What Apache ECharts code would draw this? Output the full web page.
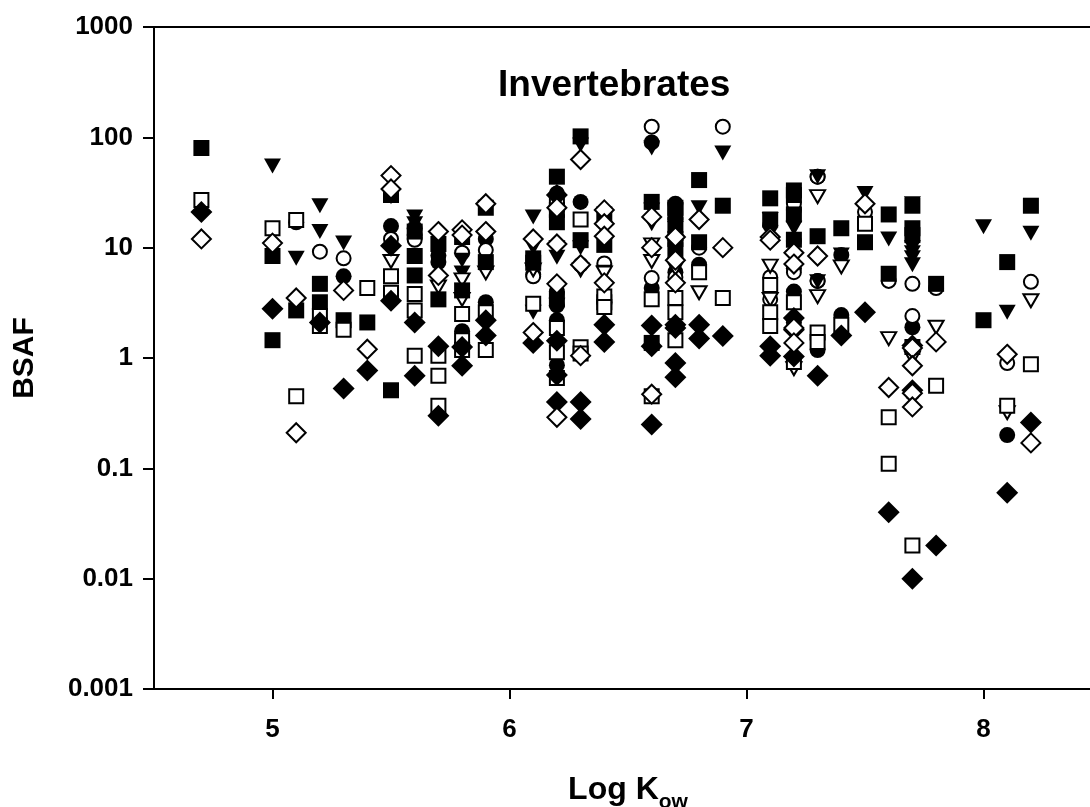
<!DOCTYPE html>
<html><head><meta charset="utf-8">
<style>html,body{margin:0;padding:0;background:#fff}#c{width:1090px;height:807px}</style>
<script src="https://cdn.jsdelivr.net/npm/echarts@6/dist/echarts.min.js"></script>
</head><body><div id="c"></div>
<script>
const xTicks = [5, 6, 7, 8];
const filledCircle = [[5.1,17],[5.3,5.5],[5.5,15.7],[5.6,15],[5.6,13],[5.7,7.4],[5.7,8.5],[5.8,1.75],[5.8,1.3],[5.9,12],[5.9,3.2],[6.1,5.7],[6.2,31],[6.2,4],[6.2,3],[6.2,2.2],[6.2,0.86],[6.2,0.7],[6.3,26],[6.4,3.2],[6.6,90],[6.6,4.3],[6.7,25],[6.7,6],[6.8,7],[7.1,16],[7.2,22],[7.2,11.5],[7.2,6.5],[7.2,4],[7.2,2.1],[7.3,44],[7.3,5],[7.3,1.18],[7.4,8.6],[7.4,2.45],[7.7,1.9],[7.7,0.48],[8.1,0.2]];
const openCircle = [[5.2,9.2],[5.3,8],[5.5,12],[5.6,11.8],[5.8,9],[5.9,9.5],[6.1,5.5],[6.3,7],[6.4,7.2],[6.6,125],[6.6,5.3],[6.7,5.4],[6.8,10],[6.9,125],[7.1,5.4],[7.1,3.4],[7.2,25],[7.2,6],[7.3,44],[7.3,5],[7.5,21],[7.6,5],[7.7,4.7],[7.7,2.4],[7.8,4.3],[8.1,0.9],[8.2,4.9]];
const filledTri = [[5,55],[5.1,8],[5.2,24],[5.2,14],[5.3,11],[5.5,29],[5.6,19],[5.6,16.5],[5.8,7.7],[5.8,5.9],[6.1,19],[6.1,10],[6.1,2.6],[6.2,27],[6.2,10],[6.2,8.2],[6.2,3],[6.3,85],[6.3,10],[6.4,6],[6.6,80],[6.6,22],[6.6,16.5],[6.7,22],[6.7,15],[6.7,10],[6.8,23],[6.9,72],[7.1,18],[7.1,11],[7.2,15],[7.2,0.8],[7.3,44],[7.3,4.9],[7.4,8.6],[7.5,31],[7.6,12],[7.7,25],[7.7,10],[7.7,9],[7.7,8.1],[7.7,7],[8,15.5],[8.1,2.6],[8.2,13.5]];
const openTri = [[5.5,7.5],[5.7,4.4],[5.8,5.1],[5.8,3.4],[5.9,5.9],[6.1,6.3],[6.3,6.3],[6.4,5.9],[6.6,10.6],[6.6,7.5],[6.7,6.5],[6.8,3.9],[7.1,6.8],[7.1,3.4],[7.2,0.8],[7.3,29],[7.3,3.6],[7.4,6.7],[7.6,1.5],[7.7,1],[7.8,1.9],[8.1,0.32],[8.2,3.3]];
const filledSquare = [[4.7,80],[5,8.4],[5,1.45],[5.1,2.7],[5.2,4.7],[5.2,3.2],[5.3,2.2],[5.4,2.1],[5.5,30],[5.5,0.51],[5.6,14],[5.6,8.4],[5.6,5.6],[5.7,10.8],[5.7,3.4],[5.8,12.5],[5.8,4.1],[5.9,23],[5.9,7.4],[6.1,8],[6.1,7.3],[6.2,44],[6.2,22],[6.2,17],[6.2,3.4],[6.3,102],[6.3,11.7],[6.4,20],[6.4,10.6],[6.4,3.2],[6.6,26],[6.6,1.37],[6.7,23],[6.7,21],[6.7,16],[6.7,12],[6.7,9.5],[6.8,41],[6.8,11.2],[6.9,24],[7.1,28],[7.1,18],[7.2,33],[7.2,30],[7.2,20],[7.2,11.8],[7.3,12.7],[7.4,15],[7.5,11.2],[7.6,20],[7.6,5.8],[7.7,24],[7.7,15],[7.7,13],[7.8,4.7],[8,2.2],[8.1,7.4],[8.2,24]];
const openSquare = [[4.7,27],[5,15],[5.1,17.8],[5.1,0.45],[5.2,2.4],[5.2,1.95],[5.3,1.8],[5.4,4.3],[5.5,5.5],[5.5,3.9],[5.6,3.8],[5.6,2.7],[5.6,1.05],[5.7,1.05],[5.7,0.69],[5.7,0.37],[5.8,2.5],[5.8,1.45],[5.8,1.18],[5.9,2.6],[5.9,1.18],[6.1,3.1],[6.2,25],[6.2,1.87],[6.2,1.13],[6.2,0.66],[6.3,18],[6.3,1.25],[6.3,1.1],[6.4,3.6],[6.4,2.9],[6.6,3.4],[6.6,0.45],[6.7,3.5],[6.7,2.6],[6.7,1.45],[6.8,6],[6.9,3.5],[7.1,4.6],[7.1,2.6],[7.1,1.95],[7.2,3.2],[7.2,0.92],[7.3,1.7],[7.3,1.4],[7.4,2],[7.5,16.5],[7.6,0.29],[7.6,0.11],[7.7,1.26],[7.7,0.02],[7.8,0.56],[8.1,0.37],[8.2,0.88]];
const filledDiamond = [[4.7,21],[5,2.8],[5.2,2.1],[5.3,0.53],[5.4,0.77],[5.5,10.4],[5.5,3.3],[5.6,2.1],[5.6,0.69],[5.7,1.28],[5.7,0.3],[5.8,1.26],[5.8,0.85],[5.9,2.2],[5.9,1.6],[6.1,1.37],[6.2,30],[6.2,1.43],[6.2,0.7],[6.2,0.4],[6.3,0.4],[6.3,0.28],[6.4,2],[6.4,1.4],[6.6,1.97],[6.6,1.28],[6.6,0.25],[6.7,2],[6.7,1.87],[6.7,0.9],[6.7,0.67],[6.8,2],[6.8,1.5],[6.9,1.58],[7.1,1.28],[7.1,1.05],[7.2,2.3],[7.2,1.8],[7.2,1.03],[7.3,0.69],[7.4,1.6],[7.5,2.6],[7.6,0.04],[7.7,1.3],[7.7,0.51],[7.7,0.01],[7.8,0.02],[8.1,0.06],[8.2,0.26]];
const openDiamond = [[4.7,12],[5,11],[5.1,3.5],[5.1,0.21],[5.3,4.1],[5.4,1.2],[5.5,45],[5.5,34],[5.7,14],[5.7,5.6],[5.8,14.5],[5.8,13],[5.9,25],[5.9,14],[6.1,12],[6.1,1.7],[6.2,23],[6.2,10.8],[6.2,4.7],[6.2,0.29],[6.3,63],[6.3,7],[6.3,1.05],[6.4,22],[6.4,16.5],[6.4,12.7],[6.4,4.8],[6.6,19],[6.6,10],[6.6,0.47],[6.7,12.5],[6.7,7.7],[6.7,4.8],[6.8,18],[6.9,10],[7.1,12.5],[7.1,11.7],[7.2,9],[7.2,7.1],[7.2,1.87],[7.2,1.37],[7.3,8.4],[7.5,25],[7.6,0.54],[7.7,1.23],[7.7,0.85],[7.7,0.48],[7.7,0.36],[7.8,1.4],[8.1,1.08],[8.2,0.17]];

const lw = 2;
function mk(name, data, symbol, size, filled, rot) {
  return {
    name, type: 'scatter', data, symbol, symbolSize: size, symbolRotate: rot || 0,
    itemStyle: { color: filled ? '#000' : '#fff', borderColor: '#000', borderWidth: filled ? 0 : lw, opacity: 1 },
    emphasis: { disabled: true }, clip: false
  };
}
const font = '"Liberation Sans", Arial, sans-serif';
const chart = echarts.init(document.getElementById('c'), null, { renderer: 'canvas' });
chart.setOption({
  animation: false, backgroundColor: '#fff',
  grid: { left: 154, top: 27, width: 948, height: 662, outerBoundsMode: 'none', show: true, borderColor: '#000', borderWidth: 2, backgroundColor: 'transparent' },
  title: {
    text: 'Invertebrates', left: 493, top: 62,
    textStyle: { fontFamily: font, fontWeight: 'bold', fontSize: 37, color: '#000' }
  },
  xAxis: {
    type: 'value', min: 4.5, max: 8.5, splitLine: { show: false },
    axisLine: { lineStyle: { color: '#000', width: 2 }, onZero: false },
    axisTick: { customValues: xTicks, length: 10, inside: false, lineStyle: { color: '#000', width: 2 } },
    axisLabel: { customValues: xTicks, fontFamily: font, fontWeight: 'bold', fontSize: 26, color: '#000', margin: 28 },
    name: 'Log K{s|ow}', nameLocation: 'middle', nameGap: 79,
    nameTextStyle: { fontFamily: font, fontWeight: 'bold', fontSize: 32, color: '#000',
      rich: { s: { fontFamily: font, fontWeight: 'bold', fontSize: 21, color: '#000', verticalAlign: 'bottom', padding: [24, 0, 0, 0] } } }
  },
  yAxis: {
    type: 'log', logBase: 10, min: 0.001, max: 1000, splitLine: { show: false }, minorTick: { show: false },
    axisLine: { lineStyle: { color: '#000', width: 2 }, onZero: false },
    axisTick: { length: 11, lineStyle: { color: '#000', width: 2 } },
    axisLabel: { fontFamily: font, fontWeight: 'bold', fontSize: 26, color: '#000', margin: 21,
      formatter: v => String(+(+v).toPrecision(3)) },
    name: 'BSAF', nameLocation: 'middle', nameGap: 114, nameRotate: 90,
    nameTextStyle: { fontFamily: font, fontWeight: 'bold', fontSize: 30, color: '#000' }
  },
  series: [
    mk('Filled circle', filledCircle, 'circle', 16, true),
    mk('Open circle', openCircle, 'circle', 14, false),
    mk('Filled triangle', filledTri, 'triangle', [17, 15], true, 180),
    mk('Open triangle', openTri, 'triangle', [15, 13], false, 180),
    mk('Filled square', filledSquare, 'rect', 16, true),
    mk('Open square', openSquare, 'rect', 14, false),
    mk('Filled diamond', filledDiamond, 'diamond', [22, 22], true),
    mk('Open diamond', openDiamond, 'diamond', [19, 19], false)
  ]
});
</script></body></html>
